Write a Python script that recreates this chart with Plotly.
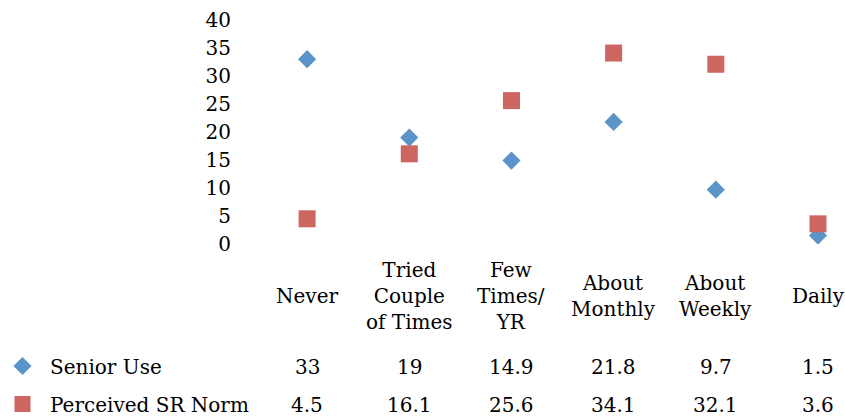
import plotly.graph_objects as go

categories = ["Never", "Tried<br>Couple<br>of Times", "Few<br>Times/<br>YR",
              "About<br>Monthly", "About<br>Weekly", "Daily"]
senior_use = [33, 19, 14.9, 21.8, 9.7, 1.5]
perceived_norm = [4.5, 16.1, 25.6, 34.1, 32.1, 3.6]
senior_labels = ["33", "19", "14.9", "21.8", "9.7", "1.5"]
perceived_labels = ["4.5", "16.1", "25.6", "34.1", "32.1", "3.6"]
y_ticks = [0, 5, 10, 15, 20, 25, 30, 35, 40]

W, H = 845, 420
FONT = "DejaVu Serif"
BLUE = "#5B94C9"
RED = "#CD6560"

fig = go.Figure()
fig.add_trace(go.Scatter(
    x=list(range(len(categories))), y=senior_use, mode="markers", name="Senior Use",
    marker=dict(symbol="diamond", size=14, color=BLUE), legend="legend"))
fig.add_trace(go.Scatter(
    x=list(range(len(categories))), y=perceived_norm, mode="markers", name="Perceived SR Norm",
    marker=dict(symbol="square", size=17, color=RED), legend="legend2"))

def py(pix):
    return 1 - pix / H

ann = []
for i, c in enumerate(categories):
    ann.append(dict(x=i, y=py(296), xref="x", yref="paper", text=c, showarrow=False,
                    xanchor="center", yanchor="middle", align="center"))
    ann.append(dict(x=i, y=py(367), xref="x", yref="paper", text=senior_labels[i],
                    showarrow=False, xanchor="center", yanchor="middle"))
    ann.append(dict(x=i, y=py(405), xref="x", yref="paper", text=perceived_labels[i],
                    showarrow=False, xanchor="center", yanchor="middle"))

fig.update_layout(
    width=W, height=H,
    margin=dict(l=0, r=0, t=0, b=0, autoexpand=False),
    paper_bgcolor="white", plot_bgcolor="white",
    font=dict(family=FONT, size=20, color="#000000"),
    showlegend=True,
    legend=dict(x=-5 / W, y=py(366), xanchor="left", yanchor="middle", itemwidth=45,
                font=dict(family=FONT, size=20), bgcolor="rgba(0,0,0,0)"),
    legend2=dict(x=-5 / W, y=py(404), xanchor="left", yanchor="middle", itemwidth=45,
                 font=dict(family=FONT, size=20), bgcolor="rgba(0,0,0,0)"),
    xaxis=dict(domain=[256 / W, 1], range=[-0.5, (845 - 307) / 102.2],
               showticklabels=False, showgrid=False, zeroline=False, showline=False,
               ticks="", automargin=False),
    yaxis=dict(domain=[py(244), py(20)], range=[0, 40], tickvals=y_ticks,
               showgrid=False, zeroline=False, showline=False, ticks="",
               automargin=False,
               ticklabelstandoff=24, tickfont=dict(family=FONT, size=20)),
    annotations=ann,
)

fig.write_html("out.html")
